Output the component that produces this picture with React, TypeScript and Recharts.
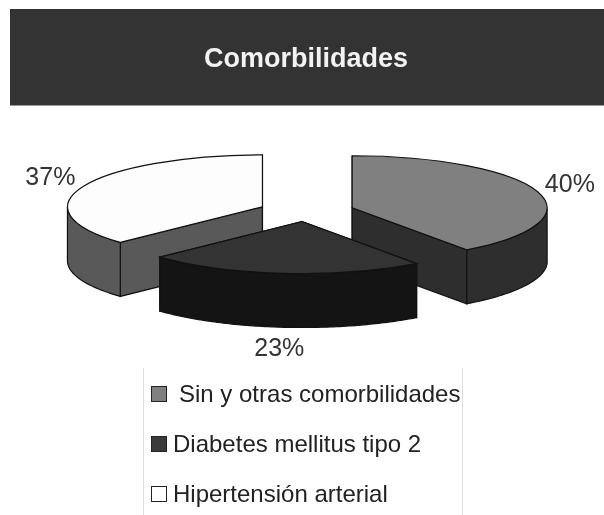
import React from "react";
import { PieChart, Pie, Cell, Legend } from "recharts";

const TITLE = "Comorbilidades";
// Painted back-to-front: the front slice has to be last.
const sliceNames = ["Hipertensión arterial", "Sin y otras comorbilidades", "Diabetes mellitus tipo 2"];
const sliceValues = [37, 40, 23];
const topColors = ["#fdfdfd", "#808080", "#333333"];
const sideColors = ["#595959", "#2e2e2e", "#141414"];
const legendOrder = [1, 2, 0];
const legendSwatches = ["#808080", "#3a3a3a", "#ffffff"];

const data = sliceNames.map((name, i) => ({ name, value: sliceValues[i] }));

const CX = 306.5;
const CY = 211;
const R = 195;
const SQUASH = 52 / 195;
const EXPLODE_SQUASH = 0.22;
const DEPTH = 54;
const EXPLODE = 48;
const START = -136.8;
const RAD = Math.PI / 180;

const centerOf = (cx: number, cy: number, mid: number) => ({
  x: cx + EXPLODE * Math.cos(mid * RAD),
  y: cy - EXPLODE * EXPLODE_SQUASH * Math.sin(mid * RAD),
});
const at = (o: { x: number; y: number }, r: number, a: number, dy = 0) => ({
  x: o.x + r * Math.cos(a * RAD),
  y: o.y - r * SQUASH * Math.sin(a * RAD) + dy,
});
const f = (n: number) => n.toFixed(2);

function Slice3D(props: any) {
  const { cx, cy, outerRadius: r, startAngle, endAngle, fill, index } = props;
  const i = index ?? sliceNames.indexOf(props.name);
  const side = sideColors[i];
  const mid = (startAngle + endAngle) / 2;
  const o = centerOf(cx, cy, mid);
  const hi = Math.max(startAngle, endAngle);
  const lo = Math.min(startAngle, endAngle);
  const ry = r * SQUASH;
  const s = at(o, r, hi);
  const e = at(o, r, lo);
  const large = hi - lo > 180 ? 1 : 0;
  const top = `M${f(o.x)},${f(o.y)} L${f(s.x)},${f(s.y)} A${r},${f(ry)} 0 ${large} 1 ${f(e.x)},${f(e.y)} Z`;
  const wall = (a: number) => {
    const p = at(o, r, a);
    return `M${f(o.x)},${f(o.y)} L${f(p.x)},${f(p.y)} L${f(p.x)},${f(p.y + DEPTH)} L${f(o.x)},${f(o.y + DEPTH)} Z`;
  };
  // Outer wall: only the front half of the rim faces the viewer.
  const norm = (a: number) => ((a % 360) + 360) % 360;
  const pieces: string[] = [];
  const steps = 90;
  let run: { x: number; y: number }[] = [];
  const flush = () => {
    if (run.length > 1) {
      const up = run.map((p) => `${f(p.x)},${f(p.y)}`).join(" L");
      const down = [...run].reverse().map((p) => `${f(p.x)},${f(p.y + DEPTH)}`).join(" L");
      pieces.push(`M${up} L${down} Z`);
    }
    run = [];
  };
  for (let k = 0; k <= steps; k++) {
    const a = hi - ((hi - lo) * k) / steps;
    if (norm(a) >= 180 || norm(a) === 0) run.push(at(o, r, a));
    else flush();
  }
  flush();
  const stroke = "#111111";
  return (
    <g>
      <path d={wall(hi)} fill={side} stroke={stroke} strokeWidth={1.2} />
      <path d={wall(lo)} fill={side} stroke={stroke} strokeWidth={1.2} />
      {pieces.map((d, k) => (
        <path key={k} d={d} fill={side} stroke={stroke} strokeWidth={1.2} />
      ))}
      <path d={top} fill={fill} stroke={stroke} strokeWidth={1.2} />
    </g>
  );
}

function SliceLabel(props: any) {
  const { cx, cy, outerRadius: r, midAngle, value } = props;
  const o = centerOf(cx, cy, midAngle);
  const p = at(o, r + 35, midAngle);
  const back = Math.sin(midAngle * RAD) > 0;
  return (
    <text
      x={p.x - 1}
      y={p.y + (back ? -6 : DEPTH + 10)}
      textAnchor="middle"
      dominantBaseline="central"
      fontFamily="'Liberation Sans', Arial, sans-serif"
      fontSize={25}
      fill="#333333"
    >
      {`${value}%`}
    </text>
  );
}

function LegendBox() {
  return (
    <div
      style={{
        width: 320,
        height: 147,
        boxSizing: "border-box",
        borderLeft: "1px solid #dddddd",
        borderRight: "1px solid #dddddd",
        fontFamily: "'Liberation Sans', Arial, sans-serif",
        fontSize: 24,
        color: "#222222",
        position: "relative",
      }}
    >
      {legendOrder.map((idx, row) => (
        <div key={idx} style={{ position: "absolute", left: 0, top: 18 + row * 50, height: 16, width: 318 }}>
          <span
            style={{
              position: "absolute",
              left: 7,
              top: 0,
              width: 14,
              height: 14,
              background: legendSwatches[row],
              border: "1px solid #222222",
            }}
          />
          <span
            style={{
              position: "absolute",
              left: row === 0 ? 35 : 29,
              top: -5,
              lineHeight: "26px",
              whiteSpace: "nowrap",
            }}
          >
            {sliceNames[idx]}
          </span>
        </div>
      ))}
    </div>
  );
}

export default function App() {
  return (
    <div
      style={{
        position: "absolute",
        left: 0,
        top: 0,
        width: 604,
        height: 515,
        background: "#ffffff",
        overflow: "hidden",
        filter: "blur(0.6px)",
      }}
    >
      <div
        style={{
          position: "absolute",
          left: 10,
          top: 9,
          width: 594,
          height: 97,
          background: "#333333",
          borderBottom: "1px solid #999999",
          color: "#f2f2f2",
          fontFamily: "'Liberation Sans', Arial, sans-serif",
          fontWeight: 700,
          fontSize: 27,
          textAlign: "center",
          lineHeight: "98px",
          paddingRight: 2,
          boxSizing: "border-box",
        }}
      >
        {TITLE}
      </div>
      <div style={{ position: "absolute", left: 0, top: 0 }}>
        <PieChart width={604} height={515} margin={{ top: 0, right: 0, bottom: 0, left: 0 }}>
          <Pie
            data={data}
            dataKey="value"
            nameKey="name"
            cx={CX}
            cy={CY}
            innerRadius={0}
            outerRadius={R}
            startAngle={START}
            endAngle={START - 360}
            stroke="none"
            isAnimationActive={false}
            labelLine={false}
            label={SliceLabel}
            shape={Slice3D}
          >
            {data.map((d, i) => (
              <Cell key={d.name} fill={topColors[i]} />
            ))}
          </Pie>
          <Legend
            content={<LegendBox />}
            wrapperStyle={{ position: "absolute", left: 143, top: 368, width: 320, height: 147, bottom: "auto" }}
          />
        </PieChart>
      </div>
    </div>
  );
}
